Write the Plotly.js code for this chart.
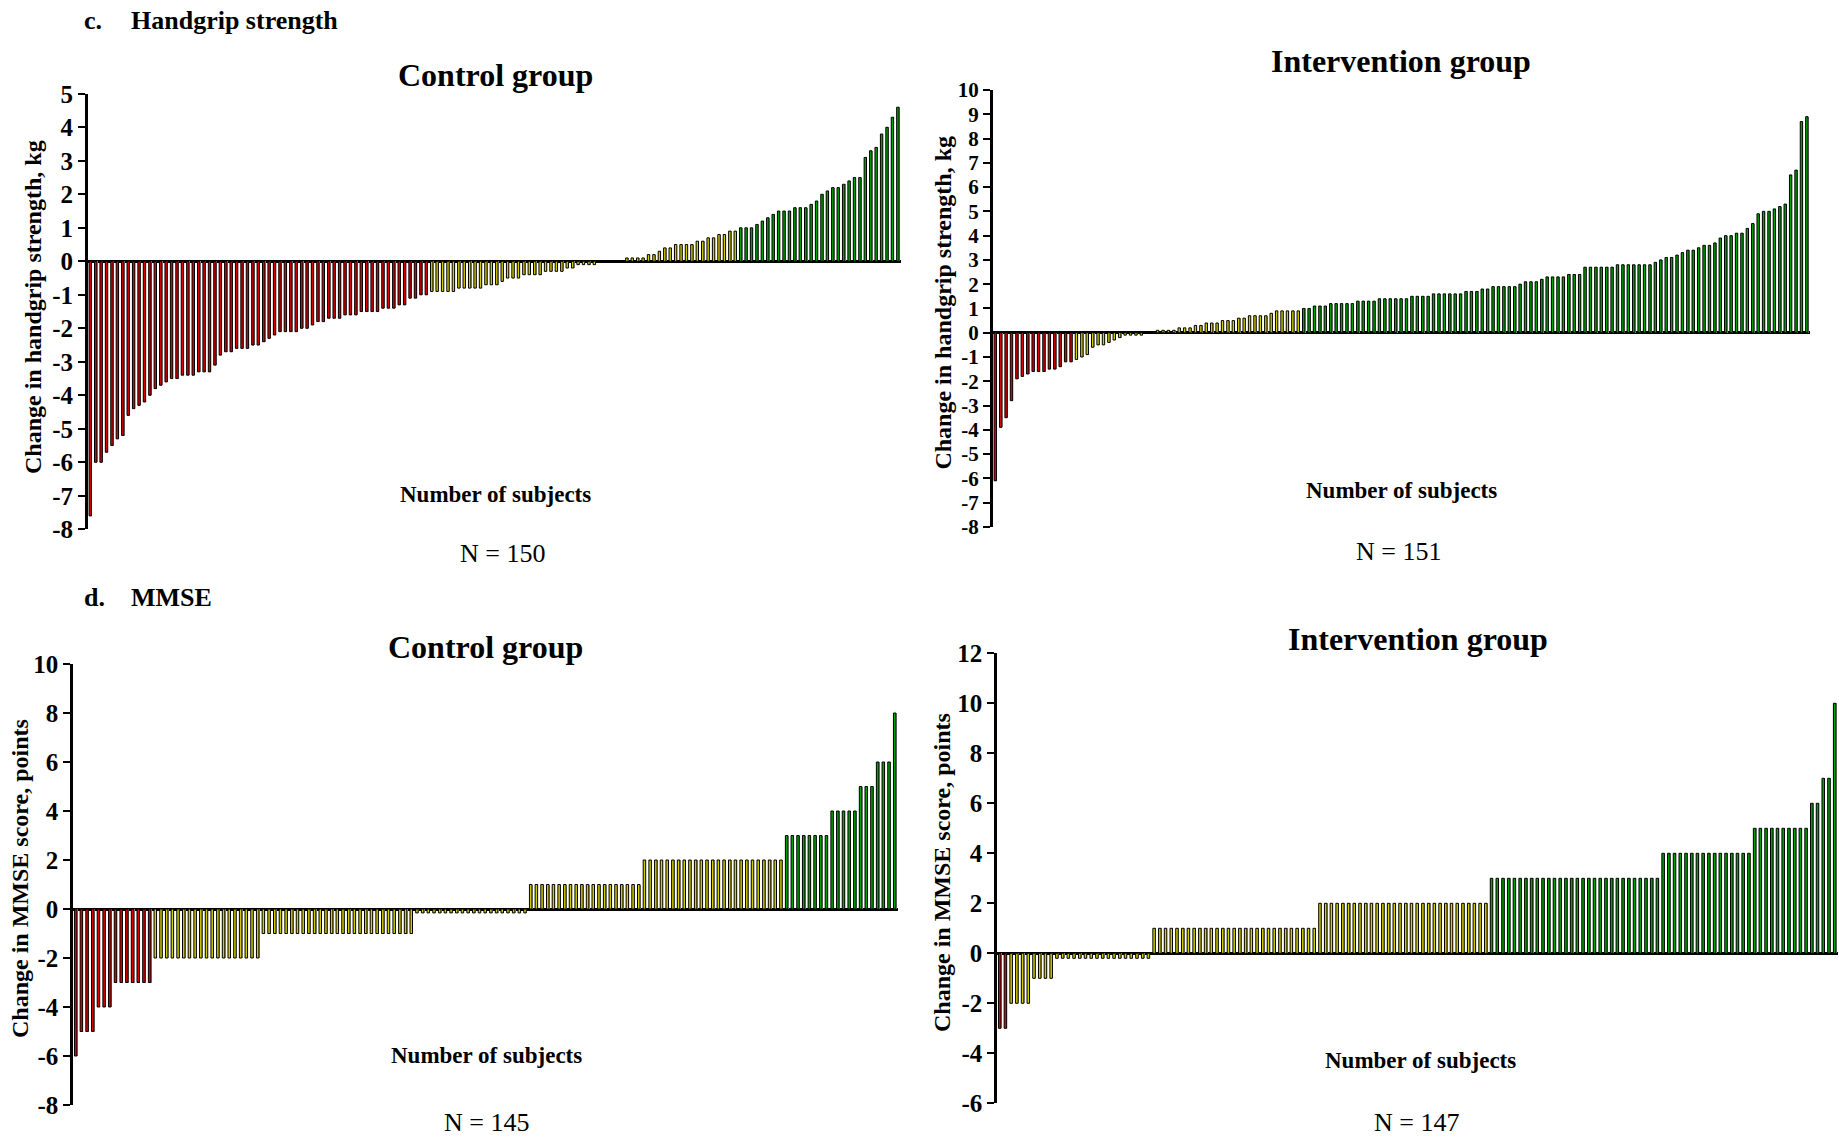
<!DOCTYPE html>
<html><head><meta charset="utf-8">
<script src="https://cdn.plot.ly/plotly-3.0.1.min.js"></script>
<style>html,body{margin:0;padding:0;background:#fff}#chart{width:1839px;height:1137px}</style>
</head><body><div id="chart"></div>
<script>
// ---- Data (sorted per subject) ----
const hgControl = [
-7.6,-6.0,-6.0,-5.7,-5.5,-5.3,-5.2,-4.6,-4.4,-4.3,
-4.2,-4.0,-3.8,-3.7,-3.6,-3.5,-3.5,-3.4,-3.4,-3.4,
-3.3,-3.3,-3.3,-3.1,-2.8,-2.7,-2.7,-2.6,-2.6,-2.6,
-2.5,-2.5,-2.4,-2.3,-2.2,-2.1,-2.1,-2.1,-2.1,-2.0,
-2.0,-1.9,-1.8,-1.8,-1.7,-1.7,-1.7,-1.6,-1.6,-1.6,
-1.5,-1.5,-1.5,-1.5,-1.4,-1.4,-1.4,-1.3,-1.3,-1.1,
-1.1,-1.0,-1.0,-0.9,-0.9,-0.9,-0.9,-0.9,-0.8,-0.8,
-0.8,-0.8,-0.8,-0.7,-0.7,-0.7,-0.6,-0.5,-0.5,-0.5,
-0.4,-0.4,-0.4,-0.4,-0.3,-0.3,-0.3,-0.3,-0.2,-0.2,
-0.1,-0.1,-0.1,-0.1,0,0,0,0,0,0.1,
0.1,0.1,0.1,0.2,0.2,0.3,0.4,0.4,0.5,0.5,
0.5,0.5,0.6,0.6,0.7,0.7,0.8,0.8,0.9,0.9,
1.0,1.0,1.0,1.1,1.2,1.3,1.4,1.5,1.5,1.5,
1.6,1.6,1.6,1.7,1.8,2.0,2.1,2.2,2.2,2.3,
2.4,2.5,2.5,3.1,3.3,3.4,3.8,4.0,4.3,4.6
];
const hgIntervention = [
-6.1,-3.9,-3.5,-2.8,-1.9,-1.8,-1.7,-1.6,-1.6,-1.6,
-1.5,-1.5,-1.4,-1.2,-1.2,-1.1,-1.0,-0.9,-0.6,-0.5,
-0.5,-0.4,-0.3,-0.2,-0.1,-0.1,-0.1,-0.1,0,0,
0.1,0.1,0.1,0.1,0.2,0.2,0.2,0.3,0.3,0.4,
0.4,0.4,0.5,0.5,0.5,0.6,0.6,0.7,0.7,0.7,
0.7,0.8,0.9,0.9,0.9,0.9,0.9,1.0,1.0,1.1,
1.1,1.1,1.2,1.2,1.2,1.2,1.2,1.3,1.3,1.3,
1.3,1.4,1.4,1.4,1.4,1.4,1.4,1.5,1.5,1.5,
1.5,1.6,1.6,1.6,1.6,1.6,1.6,1.7,1.7,1.7,
1.8,1.8,1.9,1.9,1.9,1.9,1.9,2.0,2.1,2.1,
2.1,2.2,2.3,2.3,2.3,2.3,2.4,2.4,2.4,2.7,
2.7,2.7,2.7,2.7,2.7,2.8,2.8,2.8,2.8,2.8,
2.8,2.8,2.9,3.0,3.1,3.1,3.2,3.3,3.4,3.4,
3.5,3.6,3.6,3.7,3.9,4.0,4.0,4.1,4.1,4.3,
4.5,4.9,5.0,5.0,5.1,5.2,5.3,6.5,6.7,8.7,
8.9
];
const mmseControl = [
-6,-5,-5,-5,-4,-4,-4,-3,-3,-3,
-3,-3,-3,-3,-2,-2,-2,-2,-2,-2,
-2,-2,-2,-2,-2,-2,-2,-2,-2,-2,
-2,-2,-2,-1,-1,-1,-1,-1,-1,-1,
-1,-1,-1,-1,-1,-1,-1,-1,-1,-1,
-1,-1,-1,-1,-1,-1,-1,-1,-1,-1,
0,0,0,0,0,0,0,0,0,0,
0,0,0,0,0,0,0,0,0,0,
1,1,1,1,1,1,1,1,1,1,
1,1,1,1,1,1,1,1,1,1,
2,2,2,2,2,2,2,2,2,2,
2,2,2,2,2,2,2,2,2,2,
2,2,2,2,2,3,3,3,3,3,
3,3,3,4,4,4,4,4,5,5,
5,6,6,6,8
];
const mmseIntervention = [
-3,-3,-2,-2,-2,-2,-1,-1,-1,-1,
0,0,0,0,0,0,0,0,0,0,
0,0,0,0,0,0,0,1,1,1,
1,1,1,1,1,1,1,1,1,1,
1,1,1,1,1,1,1,1,1,1,
1,1,1,1,1,1,2,2,2,2,
2,2,2,2,2,2,2,2,2,2,
2,2,2,2,2,2,2,2,2,2,
2,2,2,2,2,2,3,3,3,3,
3,3,3,3,3,3,3,3,3,3,
3,3,3,3,3,3,3,3,3,3,
3,3,3,3,3,3,4,4,4,4,
4,4,4,4,4,4,4,4,4,4,
4,4,5,5,5,5,5,5,5,5,
5,5,6,6,7,7,10
];

const tickLabelsHgControl = ['-8','-7','-6','-5','-4','-3','-2','-1','0','1','2','3','4','5'];
const tickLabelsHgInterv = ['-8','-7','-6','-5','-4','-3','-2','-1','0','1','2','3','4','5','6','7','8','9','10'];
const tickLabelsMmseControl = ['-8','-6','-4','-2','0','2','4','6','8','10'];
const tickLabelsMmseInterv = ['-6','-4','-2','0','2','4','6','8','10','12'];

const sectionLabels = [['c.','Handgrip strength'],['d.','MMSE']];
const panelTitles = ['Control group','Intervention group','Control group','Intervention group'];
const xTitle = 'Number of subjects';
const nLabels = ['N = 150','N = 151','N = 145','N = 147'];
const yTitles = ['Change in handgrip strength, kg','Change in handgrip strength, kg',
                 'Change in MMSE score, points','Change in MMSE score, points'];

// ---- Styling / layout ----
const W = 1839, H = 1137;
const FONT = 'Liberation Serif';
const RED = '#d80000', YEL = '#d0cc00', GRN = '#00a200';
const px = x => x / W;
const py = y => 1 - y / H;

const panels = [
  {data: hgControl, ticks: tickLabelsHgControl, lo: -0.95, hi: 0.95, stub: 0, tsize: 25,
   x0: 88, x1: 901, yTop: 93.8, yBot: 529.3, range: [-8, 5]},
  {data: hgIntervention, ticks: tickLabelsHgInterv, lo: -1.15, hi: 0.95, stub: 0, tsize: 21,
   x0: 993, x1: 1810, yTop: 90, yBot: 526.9, range: [-8, 10]},
  {data: mmseControl, ticks: tickLabelsMmseControl, lo: -2.5, hi: 2.5, stub: -0.16, tsize: 25,
   x0: 73.3, x1: 898, yTop: 664, yBot: 1105, range: [-8, 10]},
  {data: mmseIntervention, ticks: tickLabelsMmseInterv, lo: -2.5, hi: 2.5, stub: -0.2, tsize: 25,
   x0: 997.3, x1: 1838, yTop: 653.3, yBot: 1103.3, range: [-6, 12]}
];

const traces = [];
const layout = {
  width: W, height: H, margin: {l: 0, r: 0, t: 0, b: 0},
  paper_bgcolor: '#fff', plot_bgcolor: 'rgba(0,0,0,0)',
  showlegend: false, barmode: 'overlay', bargap: 0,
  font: {family: FONT, color: '#000'},
  annotations: []
};

panels.forEach((p, k) => {
  const n = k === 0 ? '' : String(k + 1);
  const xs = p.data.map((v, i) => i + 1);
  // zero-change subjects are drawn as a short stub below the axis in the MMSE panels
  const ys = p.data.map(v => v === 0 ? p.stub : v);
  const cols = p.data.map(v => v <= p.lo ? RED : (v >= p.hi ? GRN : YEL));
  traces.push({type: 'bar', x: xs, y: ys, xaxis: 'x' + n, yaxis: 'y' + n,
    width: 0.36, offset: -0.1, marker: {color: '#a8a8a8', line: {width: 0}},
    hoverinfo: 'skip'});
  traces.push({type: 'bar', x: xs, y: ys, xaxis: 'x' + n, yaxis: 'y' + n,
    width: 0.44, offset: -0.3, marker: {color: cols, line: {color: '#000', width: 1}}});
  layout['xaxis' + n] = {
    domain: [px(p.x0), px(p.x1)], range: [0.5, p.data.length + 0.5],
    anchor: 'y' + n, showline: false, showticklabels: false, ticks: '',
    showgrid: false, zeroline: false, fixedrange: true
  };
  layout['yaxis' + n] = {
    domain: [py(p.yBot), py(p.yTop)], range: p.range, anchor: 'x' + n,
    tickvals: p.ticks.map(Number), ticktext: p.ticks.map(t => '<b>' + t + '</b>'),
    showline: true, linecolor: '#000', linewidth: 3,
    ticks: 'outside', ticklen: 7, tickwidth: 2, tickcolor: '#000',
    tickfont: {family: FONT, size: p.tsize, color: '#000'},
    showgrid: false, zeroline: true, zerolinecolor: '#000', zerolinewidth: 3,
    fixedrange: true
  };
});

function ann(text, x, y, size, bold, opts) {
  layout.annotations.push(Object.assign({
    text: bold ? '<b>' + text + '</b>' : text,
    xref: 'paper', yref: 'paper', x: px(x), y: py(y),
    xanchor: 'center', yanchor: 'middle', showarrow: false,
    font: {family: FONT, size: size, color: '#000'}
  }, opts || {}));
}

// section labels
ann(sectionLabels[0][0], 82, 20, 26, true, {xanchor: 'left'});
ann(sectionLabels[0][1], 129, 20, 26, true, {xanchor: 'left'});
ann(sectionLabels[1][0], 82, 597, 26, true, {xanchor: 'left'});
ann(sectionLabels[1][1], 129, 597, 26, true, {xanchor: 'left'});

const titlePos = [[495, 75], [1401, 61], [485.5, 647], [1418, 639]];
const xTitlePos = [[495, 494], [1401, 490], [487, 1055.5], [1420, 1060]];
const nPos = [[502, 553.6], [1398, 551], [487, 1122], [1416, 1122]];
const yTitlePos = [[33, 307], [943, 302.6], [20, 879], [942, 872]];
for (let k = 0; k < 4; k++) {
  ann(panelTitles[k], titlePos[k][0], titlePos[k][1], 32, true);
  ann(xTitle, xTitlePos[k][0], xTitlePos[k][1], 23, true);
  ann(nLabels[k], nPos[k][0], nPos[k][1], 26, false);
  ann(yTitles[k], yTitlePos[k][0], yTitlePos[k][1], 24, true, {textangle: -90});
}

Plotly.newPlot('chart', traces, layout, {staticPlot: true, displayModeBar: false});
</script></body></html>
